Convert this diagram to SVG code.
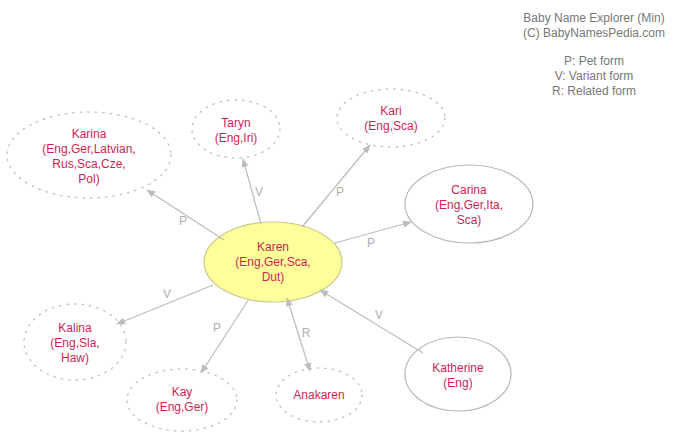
<svg xmlns="http://www.w3.org/2000/svg" width="685" height="435" viewBox="0 0 685 435">
<style>
.n{fill:#fff;stroke:#b8b8b8;stroke-width:1.2}
.d{stroke:#c4c4c4;stroke-dasharray:1.5,6;stroke-linecap:round;stroke-width:1.4}
.t{font-family:"Liberation Sans",Arial,sans-serif;font-size:12px;fill:#cc1f55;text-anchor:middle}
.e{stroke:#bcbcbc;stroke-width:1.2;fill:none;marker-end:url(#a)}
.l{font-family:"Liberation Sans",Arial,sans-serif;font-size:12px;fill:#b0b0b0;text-anchor:middle}
.h{font-family:"Liberation Sans",Arial,sans-serif;font-size:12px;fill:#777;text-anchor:middle}
</style>
<defs>
<marker id="a" viewBox="0 0 10 10" refX="9" refY="5" markerWidth="9" markerHeight="9" markerUnits="userSpaceOnUse" orient="auto-start-reverse"><path d="M0,1 L10,5 L0,9 z" fill="#bcbcbc"/></marker>
</defs>
<rect width="685" height="435" fill="#fff"/>
<g id="legend">
<text class="h" x="594" y="22">Baby Name Explorer (Min)</text>
<text class="h" x="594" y="37">(C) BabyNamesPedia.com</text>
<text class="h" x="594" y="65">P: Pet form</text>
<text class="h" x="594" y="80">V: Variant form</text>
<text class="h" x="594" y="95">R: Related form</text>
</g>
<g id="karen">
<ellipse cx="273" cy="262" rx="69" ry="40" fill="#ffff99" stroke="#c9c98f" stroke-width="1.2"/>
<text class="t" x="273" y="251">Karen</text>
<text class="t" x="273" y="266">(Eng,Ger,Sca,</text>
<text class="t" x="273" y="281">Dut)</text>
</g>
<g id="karina">
<ellipse class="n d" cx="89" cy="155" rx="82" ry="43"/>
<text class="t" x="89" y="138">Karina</text>
<text class="t" x="89" y="153">(Eng,Ger,Latvian,</text>
<text class="t" x="89" y="168">Rus,Sca,Cze,</text>
<text class="t" x="89" y="183">Pol)</text>
</g>
<g id="taryn">
<ellipse class="n d" cx="236" cy="129" rx="44" ry="29"/>
<text class="t" x="236" y="127">Taryn</text>
<text class="t" x="236" y="142">(Eng,Iri)</text>
</g>
<g id="kari">
<ellipse class="n d" cx="391" cy="118" rx="54" ry="29"/>
<text class="t" x="391" y="115">Kari</text>
<text class="t" x="391" y="130">(Eng,Sca)</text>
</g>
<g id="carina">
<ellipse class="n" cx="469" cy="204" rx="64" ry="39"/>
<text class="t" x="469" y="194">Carina</text>
<text class="t" x="469" y="209">(Eng,Ger,Ita,</text>
<text class="t" x="469" y="224">Sca)</text>
</g>
<g id="kalina">
<ellipse class="n d" cx="75" cy="342" rx="51" ry="38"/>
<text class="t" x="75" y="332">Kalina</text>
<text class="t" x="75" y="347">(Eng,Sla,</text>
<text class="t" x="75" y="362">Haw)</text>
</g>
<g id="kay">
<ellipse class="n d" cx="182" cy="400" rx="55" ry="31"/>
<text class="t" x="182" y="396">Kay</text>
<text class="t" x="182" y="411">(Eng,Ger)</text>
</g>
<g id="anakaren">
<ellipse class="n d" cx="319" cy="395" rx="43" ry="27"/>
<text class="t" x="319" y="399">Anakaren</text>
</g>
<g id="katherine">
<ellipse class="n" cx="458" cy="374" rx="53" ry="37"/>
<text class="t" x="458" y="372">Katherine</text>
<text class="t" x="458" y="387">(Eng)</text>
</g>
<g id="connectors">
<line class="e" x1="224" y1="240" x2="147" y2="190"/>
<text class="l" x="183" y="225">P</text>
<line class="e" x1="261" y1="224" x2="243" y2="159"/>
<text class="l" x="259" y="196">V</text>
<line class="e" x1="302" y1="227" x2="370" y2="145"/>
<text class="l" x="340" y="196">P</text>
<line class="e" x1="335" y1="243" x2="411" y2="222"/>
<text class="l" x="371" y="247">P</text>
<line class="e" x1="213" y1="285" x2="117" y2="324"/>
<text class="l" x="167" y="298">V</text>
<line class="e" x1="249" y1="299" x2="201" y2="373"/>
<text class="l" x="217" y="332">P</text>
<line class="e" x1="287" y1="298" x2="310" y2="371" marker-start="url(#a)"/>
<text class="l" x="306" y="337">R</text>
<line class="e" x1="423" y1="353" x2="320" y2="290"/>
<text class="l" x="379" y="319">V</text>
</g>
</svg>
